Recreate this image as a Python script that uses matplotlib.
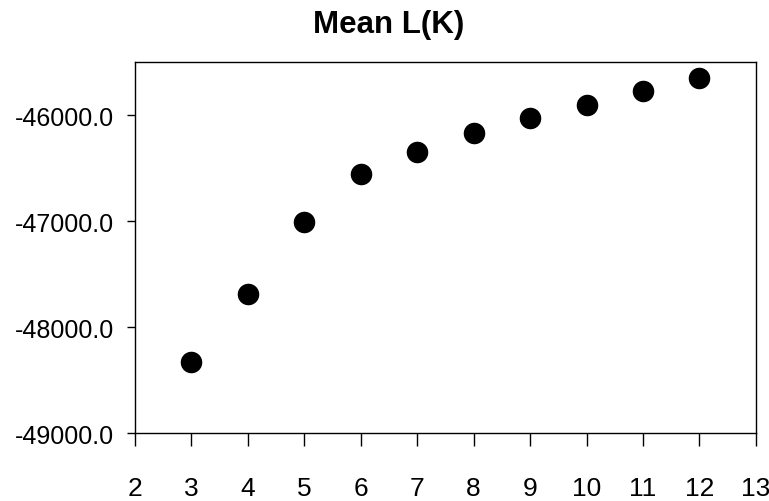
import matplotlib.pyplot as plt

# values
k_values = [3, 4, 5, 6, 7, 8, 9, 10, 11, 12]
mean_lk = [-48326, -47689, -47006, -46550, -46346, -46166, -46028, -45906, -45767, -45645]
x_ticks = list(range(2, 14))
y_ticks = [-49000, -48000, -47000, -46000]

plt.rcParams['font.family'] = ['Liberation Sans', 'DejaVu Sans']

fig = plt.figure(figsize=(7.69, 5.02), dpi=100)
ax = fig.add_axes([0.1755, 0.135, 0.8075, 0.739])

ax.plot(k_values, mean_lk, 'o', color='black', markersize=14.5, clip_on=False)

ax.set_xlim(2, 13)
ax.set_ylim(-49000, -45500)
ax.set_xticks(x_ticks)
ax.set_yticks(y_ticks)
ax.set_yticklabels(["%.1f" % v for v in y_ticks])

ax.tick_params(axis='both', colors='black')
ax.tick_params(axis='x', labelsize=19, length=9, width=1, pad=22)
ax.tick_params(axis='y', labelsize=18, length=6, width=1, pad=9)
for s in ax.spines.values():
    s.set_linewidth(1)

fig.text(0.506, 0.95, "Mean L(K)", ha='center', va='center', fontsize=22.5, fontweight='bold')

fig.savefig("out.png", dpi=100)
